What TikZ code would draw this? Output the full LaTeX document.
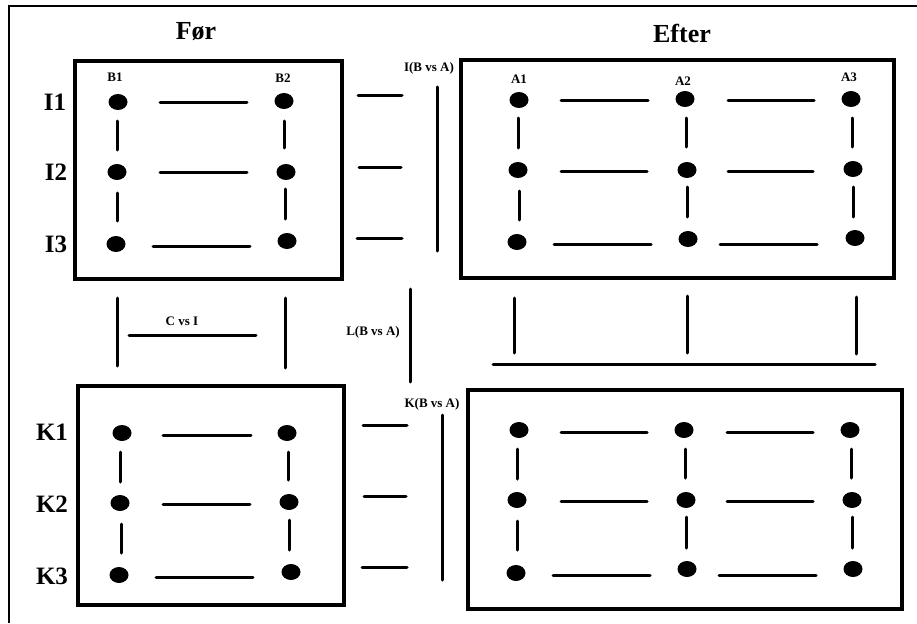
\documentclass[tikz,border=0pt]{standalone}
\usepackage{fontspec}
\setmainfont{Liberation Serif}
\usetikzlibrary{shapes.geometric}
\begin{document}
\begin{tikzpicture}[x=1pt,y=-1pt,
  dotst/.style={ellipse,fill=black,draw=none,minimum width=19pt,minimum height=16pt,inner sep=0pt},
  seg/.style={line width=3pt,line cap=round},
  boxst/.style={line width=3.5pt},
  framest/.style={line width=2pt},
  bigtxt/.style={font=\bfseries\fontsize{26}{26}\selectfont,inner sep=0pt},
  rowtxt/.style={font=\bfseries\fontsize{25}{25}\selectfont,inner sep=0pt},
  smalltxt/.style={font=\bfseries\fontsize{13}{13}\selectfont,inner sep=0pt}]
\useasboundingbox (0,0) rectangle (917,623);
\fill[white] (0,0) rectangle (917,623);
% frame
\draw[framest] (9,623) -- (9,6) -- (917,6);
% titles
\node[bigtxt] (tfor) at (196,32) {Før};
\node[bigtxt] (tefter) at (682,33) {Efter};
% row labels
\node[rowtxt] (lI1) at (55,102) {I1};
\node[rowtxt] (lI2) at (56,172) {I2};
\node[rowtxt] (lI3) at (56,244) {I3};
\node[rowtxt] (lK1) at (52,432) {K1};
\node[rowtxt] (lK2) at (52,504) {K2};
\node[rowtxt] (lK3) at (52,576) {K3};
% column labels
\node[smalltxt] (cB1) at (115,77) {B1};
\node[smalltxt] (cB2) at (283,78) {B2};
\node[smalltxt] (cA1) at (519,79) {A1};
\node[smalltxt] (cA2) at (683,81) {A2};
\node[smalltxt] (cA3) at (849,77) {A3};
% boxes
\draw[boxst] (75,61) rectangle (342,279);
\draw[boxst] (461,60) rectangle (894,278);
\draw[boxst] (78,386) rectangle (344,605);
\draw[boxst] (468,390) rectangle (902,609);
% dots top-left
\node[dotst] (i11) at (118,102) {};
\node[dotst] (i21) at (117,172) {};
\node[dotst] (i31) at (116,244) {};
\node[dotst] (i12) at (284,101) {};
\node[dotst] (i22) at (286,172) {};
\node[dotst] (i32) at (287,241) {};
% dots top-right
\node[dotst] (a11) at (519,100) {};
\node[dotst] (a21) at (518,170) {};
\node[dotst] (a31) at (517,242) {};
\node[dotst] (a12) at (685,99) {};
\node[dotst] (a22) at (687,170) {};
\node[dotst] (a32) at (688,239) {};
\node[dotst] (a13) at (851,99) {};
\node[dotst] (a23) at (853,169) {};
\node[dotst] (a33) at (855,238) {};
% dots bottom-left
\node[dotst] (k11) at (122,433) {};
\node[dotst] (k21) at (120,503) {};
\node[dotst] (k31) at (119,575) {};
\node[dotst] (k12) at (287,433) {};
\node[dotst] (k22) at (289,502) {};
\node[dotst] (k32) at (291,572) {};
% dots bottom-right
\node[dotst] (b11) at (519,430) {};
\node[dotst] (b21) at (517,500) {};
\node[dotst] (b31) at (516,573) {};
\node[dotst] (b12) at (684,430) {};
\node[dotst] (b22) at (686,500) {};
\node[dotst] (b32) at (687,569) {};
\node[dotst] (b13) at (850,430) {};
\node[dotst] (b23) at (852,500) {};
\node[dotst] (b33) at (853,569) {};
% segments top-left
\draw[seg] (160,103) -- (247,103);
\draw[seg] (160,172) -- (247,172);
\draw[seg] (153,246) -- (250,246);
\draw[seg] (117,121) -- (117,150);
\draw[seg] (117,193) -- (117,221);
\draw[seg] (284,121) -- (284,148);
\draw[seg] (285,189) -- (285,219);
% segments top-right
\draw[seg] (561,101) -- (648,101);
\draw[seg] (728,101) -- (814,101);
\draw[seg] (561,171) -- (647,171);
\draw[seg] (728,171) -- (813,171);
\draw[seg] (554,244) -- (651,244);
\draw[seg] (720,244) -- (817,244);
\draw[seg] (518,118) -- (518,148);
\draw[seg] (519,191) -- (519,220);
\draw[seg] (686,118) -- (686,147);
\draw[seg] (687,187) -- (687,217);
\draw[seg] (852,118) -- (852,147);
\draw[seg] (853,187) -- (853,217);
% segments bottom-left
\draw[seg] (163,435) -- (251,435);
\draw[seg] (163,504) -- (250,504);
\draw[seg] (156,577) -- (253,577);
\draw[seg] (120,452) -- (120,482);
\draw[seg] (121,524) -- (121,553);
\draw[seg] (288,452) -- (288,480);
\draw[seg] (289,520) -- (289,550);
% segments bottom-right
\draw[seg] (561,432) -- (647,432);
\draw[seg] (727,432) -- (813,432);
\draw[seg] (561,501) -- (647,501);
\draw[seg] (727,501) -- (813,501);
\draw[seg] (553,575) -- (650,575);
\draw[seg] (719,575) -- (816,575);
\draw[seg] (517,449) -- (517,479);
\draw[seg] (517,521) -- (517,550);
\draw[seg] (685,449) -- (685,478);
\draw[seg] (686,517) -- (686,548);
\draw[seg] (851,449) -- (851,478);
\draw[seg] (852,517) -- (852,548);
% I(B vs A)
\draw[seg] (358,96) -- (402,96);
\draw[seg] (359,167) -- (401,167);
\draw[seg] (357,238) -- (402,238);
\draw[seg] (437,87) -- (437,251);
\node[smalltxt] (lbI) at (429,68) {I(B vs A)};
% K(B vs A)
\draw[seg] (363,425) -- (407,425);
\draw[seg] (364,496) -- (406,496);
\draw[seg] (362,567) -- (407,567);
\draw[seg] (442,415) -- (442,580);
\node[smalltxt] (lbK) at (432,404) {K(B vs A)};
% C vs I
\draw[seg] (117,298) -- (117,366);
\draw[seg] (285,298) -- (285,368);
\draw[seg] (129,335) -- (256,335);
\node[smalltxt] (lbC) at (182,321) {C vs I};
% L(B vs A)
\draw[seg] (410,289) -- (410,382);
\node[smalltxt] (lbL) at (373,332) {L(B vs A)};
% Efter lower connectors
\draw[seg] (514,298) -- (514,353);
\draw[seg] (687,296) -- (687,353);
\draw[seg] (856,297) -- (856,354);
\draw[seg] (493,364) -- (875,364);
\end{tikzpicture}
\end{document}
